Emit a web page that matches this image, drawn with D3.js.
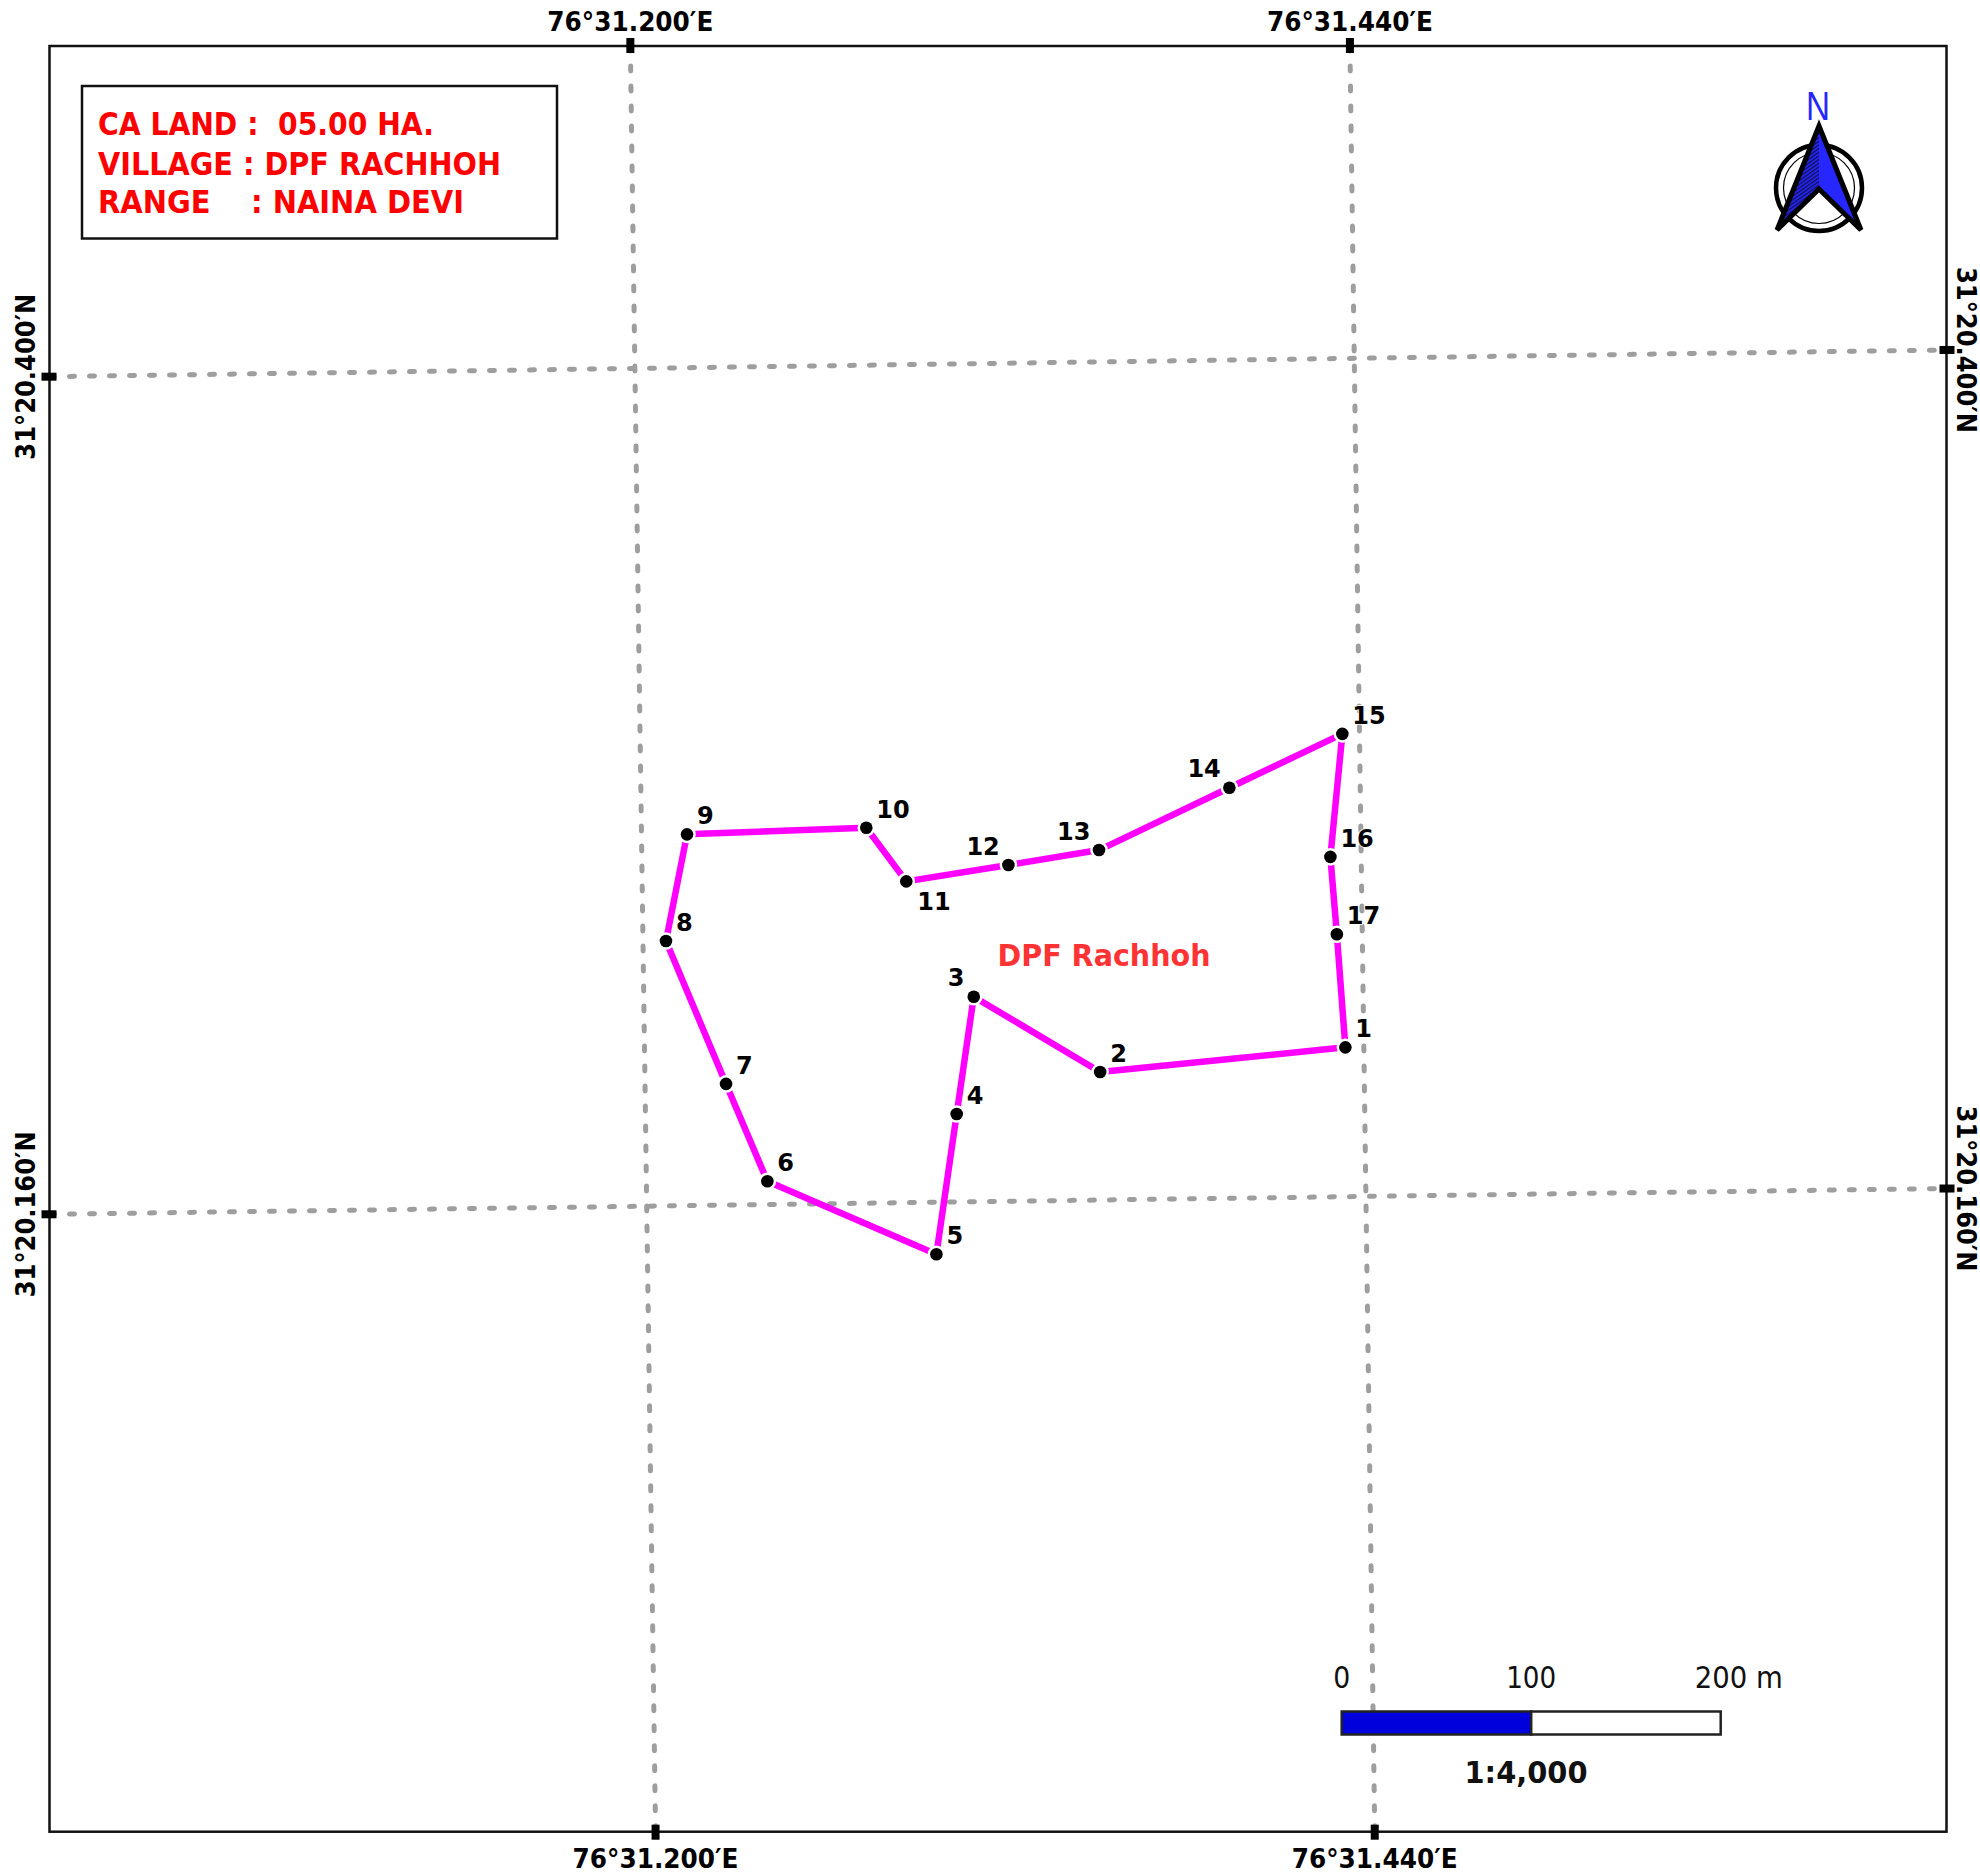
<!DOCTYPE html>
<html>
<head>
<meta charset="utf-8">
<title>DPF Rachhoh</title>
<script src="https://cdnjs.cloudflare.com/ajax/libs/d3/7.8.5/d3.min.js"></script>
<style>
    html, body { margin: 0; padding: 0; background: #fff; }
    svg { display: block; }
    text { white-space: pre; }
</style>
</head>
<body>
<div id="map"></div>
<script>
// Map values, in metres from the lower left corner of the frame
const pointNames = ["1", "2", "3", "4", "5", "6", "7", "8", "9", "10", "11", "12", "13", "14", "15", "16", "17"];
const eastings = [683.8, 554.4, 487.7, 478.7, 468.0, 378.8, 357.0, 325.3, 336.4, 431.0, 452.1, 506.0, 553.8, 622.6, 682.2, 675.9, 679.3];
const northings = [413.9, 400.9, 440.6, 378.7, 304.7, 343.2, 394.6, 470.0, 526.3, 529.8, 501.5, 510.1, 518.0, 550.9, 579.3, 514.4, 473.6];

// Graticule: metres where each line meets the frame
const lonLabels = ["76°31.200′E", "76°31.440′E"];
const lonTopEasting = [306.5, 686.2];
const lonBottomEasting = [319.8, 699.3];
const latLabels = ["31°20.400′N", "31°20.160′N"];
const latLeftNorthing = [767.8, 325.8];
const latRightNorthing = [781.9, 339.4];

const frameWidthM = 1001;
const frameHeightM = 942.3;

const infoLines = ["CA LAND :  05.00 HA.", "VILLAGE : DPF RACHHOH", "RANGE    : NAINA DEVI"];
const areaName = "DPF Rachhoh";
const scaleBarStops = [0, 100, 200];
const scaleBarLabels = ["0", "100", "200 m"];
const scaleText = "1:4,000";

const width = 1980, height = 1874;
const frame = { left: 49.5, right: 1946.5, top: 46, bottom: 1831.7 };
const tahoma = "'DejaVu Sans', Verdana, sans-serif";

const x = d3.scaleLinear().domain([0, frameWidthM]).range([frame.left, frame.right]);
const y = d3.scaleLinear().domain([0, frameHeightM]).range([frame.bottom, frame.top]);

const svg = d3.select("#map").append("svg")
    .attr("width", width)
    .attr("height", height)
    .attr("viewBox", `0 0 ${width} ${height}`);

svg.append("rect").attr("width", width).attr("height", height).attr("fill", "#fff");

let defs = svg.append("defs");
let hatch = defs.append("pattern")
    .attr("id", "hatch")
    .attr("width", 3)
    .attr("height", 3)
    .attr("patternUnits", "userSpaceOnUse")
    .attr("patternTransform", "rotate(-35)");
hatch.append("rect").attr("width", 3).attr("height", 3).attr("fill", "#2626ff");
hatch.append("rect").attr("width", 3).attr("height", 1.3).attr("fill", "#10104a");

// Graticule lines
let grid = svg.append("g")
    .attr("fill", "none")
    .attr("stroke", "#9e9e9e")
    .attr("stroke-width", 5)
    .attr("stroke-linecap", "round")
    .attr("stroke-dasharray", "5 15");

grid.selectAll("line.lon")
    .data(lonLabels)
    .join("line")
    .attr("class", "lon")
    .attr("x1", (d, i) => x(lonTopEasting[i]))
    .attr("y1", y(frameHeightM))
    .attr("x2", (d, i) => x(lonBottomEasting[i]))
    .attr("y2", y(0));

grid.selectAll("line.lat")
    .data(latLabels)
    .join("line")
    .attr("class", "lat")
    .attr("x1", x(0))
    .attr("y1", (d, i) => y(latLeftNorthing[i]))
    .attr("x2", x(frameWidthM))
    .attr("y2", (d, i) => y(latRightNorthing[i]));

// Frame
svg.append("rect")
    .attr("x", frame.left)
    .attr("y", frame.top)
    .attr("width", frame.right - frame.left)
    .attr("height", frame.bottom - frame.top)
    .attr("fill", "none")
    .attr("stroke", "#111")
    .attr("stroke-width", 2.5);

// Ticks and grid annotations
let ticks = svg.append("g").attr("fill", "#000");
let annot = svg.append("g")
    .attr("font-family", tahoma)
    .attr("font-weight", "bold")
    .attr("font-size", 26)
    .attr("font-stretch", "condensed")
    .attr("fill", "#000")
    .attr("text-anchor", "middle");
const annotLength = 166;

lonLabels.forEach((label, i) => {
    let xTop = x(lonTopEasting[i]);
    let xBottom = x(lonBottomEasting[i]);
    ticks.append("rect").attr("x", xTop - 4).attr("y", frame.top - 8).attr("width", 8).attr("height", 15);
    ticks.append("rect").attr("x", xBottom - 4).attr("y", frame.bottom - 7).attr("width", 8).attr("height", 15);
    annot.append("text").attr("x", xTop).attr("y", 31)
        .attr("textLength", annotLength).attr("lengthAdjust", "spacingAndGlyphs").text(label);
    annot.append("text").attr("x", xBottom).attr("y", 1867.5)
        .attr("textLength", annotLength).attr("lengthAdjust", "spacingAndGlyphs").text(label);
});

latLabels.forEach((label, i) => {
    let yLeft = y(latLeftNorthing[i]);
    let yRight = y(latRightNorthing[i]);
    ticks.append("rect").attr("x", frame.left - 8).attr("y", yLeft - 4).attr("width", 15).attr("height", 8);
    ticks.append("rect").attr("x", frame.right - 7).attr("y", yRight - 4).attr("width", 15).attr("height", 8);
    annot.append("text").attr("transform", `translate(35,${yLeft}) rotate(-90)`)
        .attr("textLength", annotLength).attr("lengthAdjust", "spacingAndGlyphs").text(label);
    annot.append("text").attr("transform", `translate(1957,${yRight}) rotate(90)`)
        .attr("textLength", annotLength).attr("lengthAdjust", "spacingAndGlyphs").text(label);
});

// Boundary
let boundary = pointNames.map((name, i) => ({ name: name, e: eastings[i], n: northings[i] }));
let lineGen = d3.line()
    .x(d => x(d.e))
    .y(d => y(d.n))
    .curve(d3.curveLinearClosed);

svg.append("path")
    .attr("d", lineGen(boundary))
    .attr("fill", "none")
    .attr("stroke", "#ff00ff")
    .attr("stroke-width", 6.5)
    .attr("stroke-linejoin", "round");

svg.append("g").selectAll("circle")
    .data(boundary)
    .join("circle")
    .attr("cx", d => x(d.e))
    .attr("cy", d => y(d.n))
    .attr("r", 6.3)
    .attr("fill", "#000")
    .attr("stroke", "#fff")
    .attr("stroke-width", 5)
    .attr("paint-order", "stroke");

// Most labels sit up and right of the point, these few do not
let labelOffset = d => {
    if (d.name === "11") return [11, 29];
    if (d.name === "12" || d.name === "13" || d.name === "14") return [-42, -10.5];
    if (d.name === "3") return [-26, -10.5];
    return [10, -10];
};

svg.append("g").selectAll("text")
    .data(boundary)
    .join("text")
    .attr("x", d => x(d.e) + labelOffset(d)[0])
    .attr("y", d => y(d.n) + labelOffset(d)[1])
    .attr("font-family", tahoma)
    .attr("font-weight", "bold")
    .attr("font-size", 24)
    .attr("fill", "#000")
    .attr("stroke", "rgba(255,255,255,0.8)")
    .attr("stroke-width", 2)
    .attr("paint-order", "stroke")
    .text(d => d.name);

svg.append("text")
    .attr("x", 997.5)
    .attr("y", 965.5)
    .attr("font-family", tahoma)
    .attr("font-weight", "bold")
    .attr("font-size", 30)
    .attr("fill", "#ff3333")
    .attr("textLength", 213)
    .attr("lengthAdjust", "spacingAndGlyphs")
    .text(areaName);

// Info box
svg.append("rect")
    .attr("x", 82)
    .attr("y", 86)
    .attr("width", 475)
    .attr("height", 152.5)
    .attr("fill", "#fff")
    .attr("stroke", "#111")
    .attr("stroke-width", 2.5);

const infoBaselines = [135, 174.5, 212.5];
const infoWidths = [336, 403, 366];
svg.append("g").selectAll("text")
    .data(infoLines)
    .join("text")
    .attr("x", 98)
    .attr("y", (d, i) => infoBaselines[i])
    .attr("font-family", tahoma)
    .attr("font-weight", "bold")
    .attr("font-size", 32)
    .attr("font-stretch", "condensed")
    .attr("fill", "#ff0000")
    .attr("textLength", (d, i) => infoWidths[i])
    .attr("lengthAdjust", "spacingAndGlyphs")
    .text(d => d);

// Scale bar
let barX = d3.scaleLinear().domain([0, 200]).range([1341.7, 1720.7]);
let bar = svg.append("g");
bar.selectAll("rect")
    .data(d3.pairs(scaleBarStops))
    .join("rect")
    .attr("x", d => barX(d[0]))
    .attr("y", 1711.5)
    .attr("width", d => barX(d[1]) - barX(d[0]))
    .attr("height", 23)
    .attr("fill", (d, i) => i === 0 ? "#0000dd" : "#fff")
    .attr("stroke", "#222")
    .attr("stroke-width", 2.5);

bar.selectAll("text.stop")
    .data(scaleBarStops)
    .join("text")
    .attr("class", "stop")
    .attr("x", (d, i) => i === 2 ? barX(d) - 26 : barX(d))
    .attr("y", 1688)
    .attr("font-family", tahoma)
    .attr("font-size", 31)
    .attr("font-stretch", "condensed")
    .attr("fill", "#111")
    .attr("text-anchor", (d, i) => i === 2 ? "start" : "middle")
    .attr("textLength", (d, i) => [17, 50, 88][i])
    .attr("lengthAdjust", "spacingAndGlyphs")
    .text((d, i) => scaleBarLabels[i]);

bar.append("text")
    .attr("x", 1526)
    .attr("y", 1783)
    .attr("font-family", tahoma)
    .attr("font-weight", "bold")
    .attr("font-size", 31)
    .attr("fill", "#111")
    .attr("text-anchor", "middle")
    .attr("textLength", 123)
    .attr("lengthAdjust", "spacingAndGlyphs")
    .text(scaleText);

// North arrow
let north = svg.append("g").attr("transform", "translate(1819,188)");
north.append("circle").attr("r", 43).attr("fill", "#fff").attr("stroke", "#000").attr("stroke-width", 4.5);
north.append("circle").attr("r", 35.5).attr("fill", "none").attr("stroke", "#000").attr("stroke-width", 1.2);

north.append("path")
    .attr("d", "M0,-62 L0,0 L-40,39 Z")
    .attr("fill", "url(#hatch)");
north.append("path")
    .attr("d", "M0,-62 L0,0 L40,39 Z")
    .attr("fill", "#2626ff");
north.append("path")
    .attr("d", "M0,-62 L42,42 L0,1 L-42,42 Z")
    .attr("fill", "none")
    .attr("stroke", "#000")
    .attr("stroke-width", 5)
    .attr("stroke-linejoin", "miter");

svg.append("text")
    .attr("x", 1818)
    .attr("y", 120)
    .attr("font-family", "'Liberation Sans', sans-serif")
    .attr("font-size", 40)
    .attr("fill", "#2626ff")
    .attr("text-anchor", "middle")
    .attr("textLength", 24)
    .attr("lengthAdjust", "spacingAndGlyphs")
    .text("N");
</script>
</body>
</html>
